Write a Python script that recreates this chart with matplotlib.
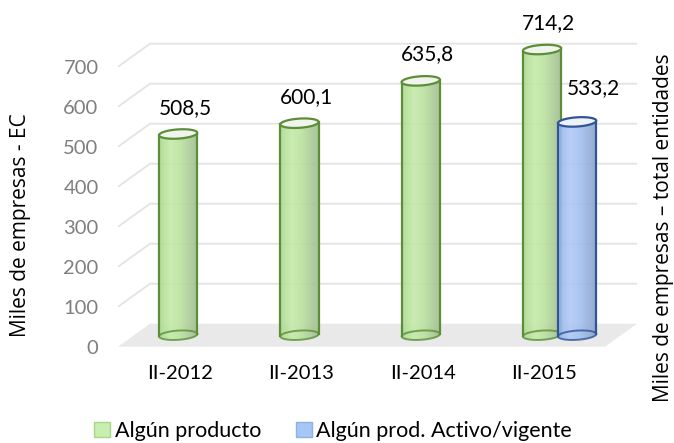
import matplotlib
matplotlib.use("Agg")
import matplotlib.pyplot as plt
import numpy as np
from matplotlib.patches import Polygon, PathPatch, Patch
from matplotlib.path import Path
from matplotlib.colors import to_rgb

# ---------------- data ----------------
categories = ["II-2012", "II-2013", "II-2014", "II-2015"]
# cylinder heights as drawn in the chart
algun_producto = [503, 530, 635.8, 714.2]
algun_producto_labels = ["508,5", "600,1", "635,8", "714,2"]
activo_vigente = [np.nan, np.nan, np.nan, 533.2]
activo_vigente_labels = ["", "", "", "533,2"]
y_ticks = [0, 100, 200, 300, 400, 500, 600, 700]
series_names = ["Algún producto", "Algún prod. Activo/vigente"]
y_title_left = "Miles de empresas - EC"
y_title_right = "Miles de empresas \u2013 total entidades"

# ---------------- style ----------------
W, H = 674, 443
fig = plt.figure(figsize=(W / 100, H / 100), dpi=100)
ax = fig.add_axes([118 / W, 96.3 / H, 487 / W, 320 / H])
XMIN, XMAX = -0.511, 3.504
YMIN, YMAX = 0, 800
ax.set_xlim(XMIN, XMAX)
ax.set_ylim(YMIN, YMAX)
for sp in ax.spines.values():
    sp.set_visible(False)

DX, DY = 0.264, 57.5          # perspective depth offset (data units)
grid_col = "#e3e3e3"
floor_col = "#e9e9e9"

# floor
ax.add_patch(Polygon([(XMIN, 0), (XMAX, 0), (XMAX + DX, DY), (XMIN + DX, DY)],
                     closed=True, facecolor=floor_col, edgecolor="none",
                     zorder=1, clip_on=False))
# gridlines: side wall + back wall
for v in y_ticks[1:]:
    ax.plot([XMIN, XMIN + DX, XMAX + DX], [v, v + DY, v + DY], color=grid_col,
            lw=1.3, zorder=1.5, clip_on=False, solid_capstyle="butt")

# ticks
ax.set_yticks(y_ticks)
ax.set_yticklabels([str(v) for v in y_ticks])
ax.set_xticks(range(len(categories)))
ax.set_xticklabels(categories)
ax.tick_params(axis="y", length=0, pad=14, labelsize=14.5, labelcolor="#7f7f7f")
ax.tick_params(axis="x", length=0, pad=13, labelsize=14.5, labelcolor="#000000")
for lab in ax.get_xticklabels() + ax.get_yticklabels():
    lab.set_fontfamily("Lato")

BW = 0.315      # cylinder width (data)
EH = 11.5       # ellipse half-height (data)
TILT = 3.0      # ellipse tilt (data units at ends)
OFFS = [-0.147, 0.142]


def ell_pts(c, v, t):
    return np.column_stack([c + BW / 2 * np.cos(t), v + EH * np.sin(t) + TILT * np.cos(t)])


def cylinder(c, h, body_cols, edge, top_col, z):
    b = DY / 2
    top = b + h
    t_front = np.linspace(np.pi, 2 * np.pi, 60)
    t_back = np.linspace(0, np.pi, 60)
    pts = np.vstack([ell_pts(c, b, t_front), ell_pts(c, top, t_back)])
    path = Path(np.vstack([pts, pts[:1]]), closed=True)
    body = PathPatch(path, facecolor="none", edgecolor="none", zorder=z)
    ax.add_patch(body)
    n = 64
    xs = np.linspace(0, 1, n)
    stops = np.array([0.0, 0.3, 0.55, 0.85, 1.0])
    cols = np.array([to_rgb(cc) for cc in body_cols])
    img = np.zeros((1, n, 4))
    for k in range(3):
        img[0, :, k] = np.interp(xs, stops, cols[:, k])
    img[0, :, 3] = 0.9
    im = ax.imshow(img, extent=[c - BW / 2, c + BW / 2, b - 2 * EH - TILT, top + 2 * EH + TILT],
                   aspect="auto", zorder=z, interpolation="bilinear")
    im.set_clip_path(body)
    t = np.linspace(0, 2 * np.pi, 120)
    bp = ell_pts(c, b, t)
    ax.plot(bp[:, 0], bp[:, 1], color=edge, lw=1.4, zorder=z + 0.1, alpha=0.8)
    ax.plot([c - BW / 2, c - BW / 2], [b - TILT, top - TILT], color=edge, lw=1.6, zorder=z + 0.2)
    ax.plot([c + BW / 2, c + BW / 2], [b + TILT, top + TILT], color=edge, lw=1.6, zorder=z + 0.2)
    tp = ell_pts(c, top, t)
    ax.add_patch(Polygon(tp, closed=True, facecolor=top_col, edgecolor=edge, lw=1.6, zorder=z + 0.3))
    return top


green_body = ["#acd98f", "#c4eaaa", "#bae29f", "#a8c795", "#a0bf8b"]
blue_body = ["#93b5ed", "#afc9f5", "#a5c1f1", "#91abd6", "#88a2cd"]
green_edge = "#5b8e37"
blue_edge = "#2f5597"

for i, h in enumerate(algun_producto):
    c = i + DX / 2 + OFFS[0]
    top = cylinder(c, h, green_body, green_edge, "#f0f4ed", 3 + i)
    ax.annotate(algun_producto_labels[i], (c, top), xytext=(5, 19), textcoords="offset points",
                ha="center", va="center", fontsize=15, fontfamily="Lato", color="#000000",
                zorder=20, annotation_clip=False)
for i, h in enumerate(activo_vigente):
    if np.isnan(h):
        continue
    c = i + DX / 2 + OFFS[1]
    top = cylinder(c, h, blue_body, blue_edge, "#eef2f8", 8 + i)
    ax.annotate(activo_vigente_labels[i], (c, top), xytext=(12, 24), textcoords="offset points",
                ha="center", va="center", fontsize=15, fontfamily="Lato", color="#000000",
                zorder=20, annotation_clip=False)

ax.set_xlim(XMIN, XMAX)
ax.set_ylim(YMIN, YMAX)

# axis titles
fig.text(21 / W, 1 - 225 / H, y_title_left, rotation=90, ha="center", va="center",
         fontsize=15, fontfamily="Open Sans", color="#000000")
fig.text(663 / W, 1 - 228 / H, y_title_right, rotation=90, ha="center", va="center",
         fontsize=15, fontfamily="Open Sans", color="#000000")

# legend
handles = [Patch(facecolor="#c6efb0", edgecolor="#a8d48c", lw=1.0),
           Patch(facecolor="#a6c6f5", edgecolor="#8fb0e4", lw=1.0)]
leg = fig.legend(handles, series_names, loc="lower center", bbox_to_anchor=(333 / W, 2 / H),
                 ncol=2, frameon=False, prop={"family": "Lato", "size": 15.5},
                 handlelength=0.75, handleheight=0.75, handletextpad=0.2, columnspacing=1.6,
                 borderpad=0, borderaxespad=0)

fig.savefig("out.png", dpi=100)
